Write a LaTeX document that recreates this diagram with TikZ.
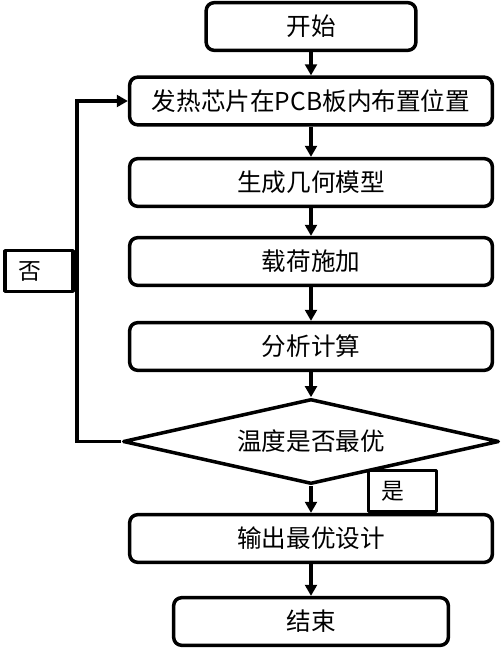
\documentclass[tikz,border=0pt]{standalone}
\usepackage{fontspec}
\setmainfont{Noto Sans CJK SC}
\usetikzlibrary{positioning,shapes.geometric,arrows.meta}
\tikzset{
    base/.style={
        draw=black,
        line width=3pt,
        line join=round,
        fill=white,
        text=black,
        font=\fontsize{21pt}{25pt}\selectfont,
    },
    % Start / end
    term/.style={
        base,
        rectangle,
        rounded corners=2.4mm,
        minimum width=6.29cm,
        minimum height=1.43cm,
    },
    % Process
    proc/.style={
        base,
        rectangle,
        rounded corners=2.4mm,
        minimum width=10.88cm,
        minimum height=1.43cm,
    },
    % Decision
    dec/.style={
        base,
        diamond,
        aspect=4.2,
        inner sep=0pt,
        minimum width=11.28cm,
        minimum height=2.55cm,
        fill=none,
    },
    % Branch label
    tag/.style={
        base,
        rectangle,
        font=\fontsize{19.5pt}{23pt}\selectfont,
        text width=1.25cm,
        align=left,
        inner xsep=0.39cm,
        minimum height=1.22cm,
    },
    flow/.style={
        line width=3pt,
        -{Triangle[length=3.3mm,width=3.5mm]},
    },
}

\begin{document}
\begin{tikzpicture}[x=0.03cm,y=-0.03cm]
    \useasboundingbox (0,0) rectangle (502,651);

    % Flow steps
    \node[term] (N1) at (311,26.5) {开始};
    \node[proc] (N2) at (311,101) {发热芯片在PCB板内布置位置};
    \node[proc] (N3) at (311,182.5) {生成几何模型};
    \node[proc] (N4) at (311,261.5) {载荷施加};
    \node[proc] (N5) at (311,346.5) {分析计算};
    \node[tag] (T1) at (402.5,491) {是};
    \node[dec] (N6) at (311,441.5) {温度是否最优};
    \node[proc] (N7) at (311,538.5) {输出最优设计};
    \node[term,minimum width=8.24cm] (N8) at (311,621.5) {结束};

    % Connectors
    \draw[flow] (N1) -- (N2);
    \draw[flow] (N2) -- (N3);
    \draw[flow] (N3) -- (N4);
    \draw[flow] (N4) -- (N5);
    \draw[flow] (N5) -- (N6);
    \draw[flow] (N6) -- (N7);
    \draw[flow] (N7) -- (N8);

    % Loop back
    \coordinate (L1) at (77,101);
    \draw[flow,line join=miter] (N6.west) -| (L1) -- (N2.west);
    \node[tag,anchor=east] (T2) at (74.5,271) {否};
\end{tikzpicture}
\end{document}
